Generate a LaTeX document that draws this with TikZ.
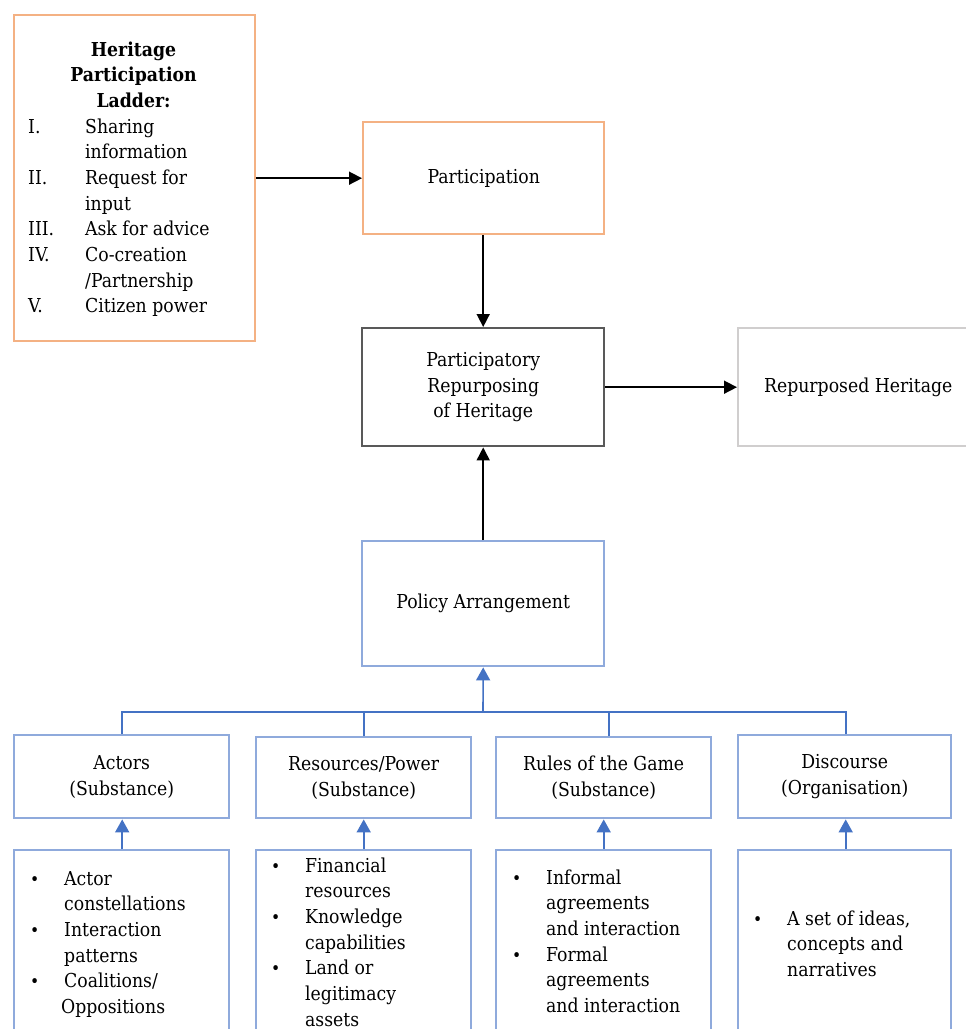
\documentclass[tikz,border=0pt]{standalone}
\usepackage{fontspec}
\setmainfont{DejaVu Serif Condensed}
\usetikzlibrary{arrows.meta}
\definecolor{orangeB}{HTML}{F4B183}
\definecolor{blueB}{HTML}{8FAADC}
\definecolor{blueL}{HTML}{4472C4}
\definecolor{grayD}{HTML}{595959}
\definecolor{grayL}{HTML}{D0CECE}
\newcommand\fs{\fontsize{19.2}{25.7}\selectfont}
\newcommand\bul{\scalebox{0.9}{\textbullet}}
\begin{document}
\begin{tikzpicture}[x=1pt,y=-1pt,
  box/.style={rectangle, line width=2.4pt, anchor=north west, inner sep=0pt, align=center, font=\fs},
  obox/.style={box, draw=orangeB},
  bbox/.style={box, draw=blueB},
  txt/.style={inner sep=0pt, font=\fs, anchor=base west},
  karrow/.style={line width=1.6pt, -{Triangle[length=13pt,width=13pt]}},
  barrow/.style={line width=1.6pt, draw=blueL, -{Triangle[length=13pt,width=14pt]}, color=blueL},
  bline/.style={line width=1.6pt, draw=blueL}
]
\useasboundingbox (0,0) rectangle (966,1029);
\clip (0,0) rectangle (966,1029);
\fill[white] (0,0) rectangle (966,1029);

% top boxes
\node[obox, minimum width=241pt, minimum height=326pt] (ladder) at (13,14) {};
\node[inner sep=0pt, font=\fs\bfseries, anchor=base] (ladtitle) at (133.5,56)
  {\begin{tabular}[t]{@{}c@{}}Heritage\\ Participation\\ Ladder:\end{tabular}};
\node[txt] (ladlist) at (28,133)
  {\begin{tabular}[t]{@{}p{57pt}@{}l@{}}
   I. & Sharing\\ & information\\
   II. & Request for\\ & input\\
   III. & Ask for advice\\
   IV. & Co-creation\\ & /Partnership\\
   V. & Citizen power
   \end{tabular}};

\node[obox, minimum width=241pt, minimum height=112pt] (part) at (362,121) {Participation};
\node[box, draw=grayD, minimum width=242pt, minimum height=118pt] (prh) at (361,327)
  {Participatory\\ Repurposing\\ of Heritage};
\node[box, draw=grayL, minimum width=240pt, minimum height=118pt] (rh) at (737,327) {Repurposed Heritage};
\node[bbox, minimum width=242pt, minimum height=125pt] (pa) at (361,540) {Policy Arrangement};

% category boxes
\node[bbox, minimum width=215pt, minimum height=83pt] (actors) at (13,734) {Actors\\ (Substance)};
\node[bbox, minimum width=215pt, minimum height=81pt] (res) at (255,736) {Resources/Power\\ (Substance)};
\node[bbox, minimum width=215pt, minimum height=81pt] (rules) at (495,736) {Rules of the Game\\ (Substance)};
\node[bbox, minimum width=213pt, minimum height=83pt] (disc) at (737,734) {Discourse\\ (Organisation)};

% detail boxes
\node[bbox, minimum width=215pt, minimum height=220pt] (actorsD) at (13,849) {};
\node[bbox, minimum width=215pt, minimum height=220pt] (resD) at (255,849) {};
\node[bbox, minimum width=215pt, minimum height=220pt] (rulesD) at (495,849) {};
\node[bbox, minimum width=213pt, minimum height=220pt] (discD) at (737,849) {};

\node[txt] (actorsT) at (30,885)
  {\begin{tabular}[t]{@{}p{34pt}@{}l@{}}
   \bul & Actor\\ & constellations\\
   \bul & Interaction\\ & patterns\\
   \bul & Coalitions/\\ & \hspace*{-3pt}Oppositions
   \end{tabular}};
\node[txt] (resT) at (271,872)
  {\begin{tabular}[t]{@{}p{34pt}@{}l@{}}
   \bul & Financial\\ & resources\\
   \bul & Knowledge\\ & capabilities\\
   \bul & Land or\\ & legitimacy\\ & assets
   \end{tabular}};
\node[txt] (rulesT) at (512,884)
  {\begin{tabular}[t]{@{}p{34pt}@{}l@{}}
   \bul & Informal\\ & agreements\\ & and interaction\\
   \bul & Formal\\ & agreements\\ & and interaction
   \end{tabular}};
\node[txt] (discT) at (753,925)
  {\begin{tabular}[t]{@{}p{34pt}@{}l@{}}
   \bul & A set of ideas,\\ & concepts and\\ & narratives
   \end{tabular}};

% black connectors
\draw[karrow] (ladder.east |- part.west) -- (part.west);
\draw[karrow] (prh.north |- part.south) -- (prh.north);
\draw[karrow] (pa.north) -- (prh.south);
\draw[karrow] (prh.east) -- (rh.west |- prh.east);

% blue tree
\coordinate (junc) at (483,712);
\draw[barrow] (junc) -- (pa.south);
\draw[bline] (actors.north) |- (junc);
\draw[bline] (res.north) |- (junc);
\draw[bline] ([xshift=5pt]rules.north) |- (junc);
\draw[bline] ([xshift=1pt]disc.north) |- (junc);

\draw[barrow] ([xshift=0.5pt]actorsD.north) -- ([xshift=0.5pt]actors.south);
\draw[barrow] (resD.north) -- (res.south);
\draw[barrow] (rulesD.north) -- (rules.south);
\draw[barrow] ([xshift=1pt]discD.north) -- ([xshift=1pt]disc.south);
\end{tikzpicture}
\end{document}
